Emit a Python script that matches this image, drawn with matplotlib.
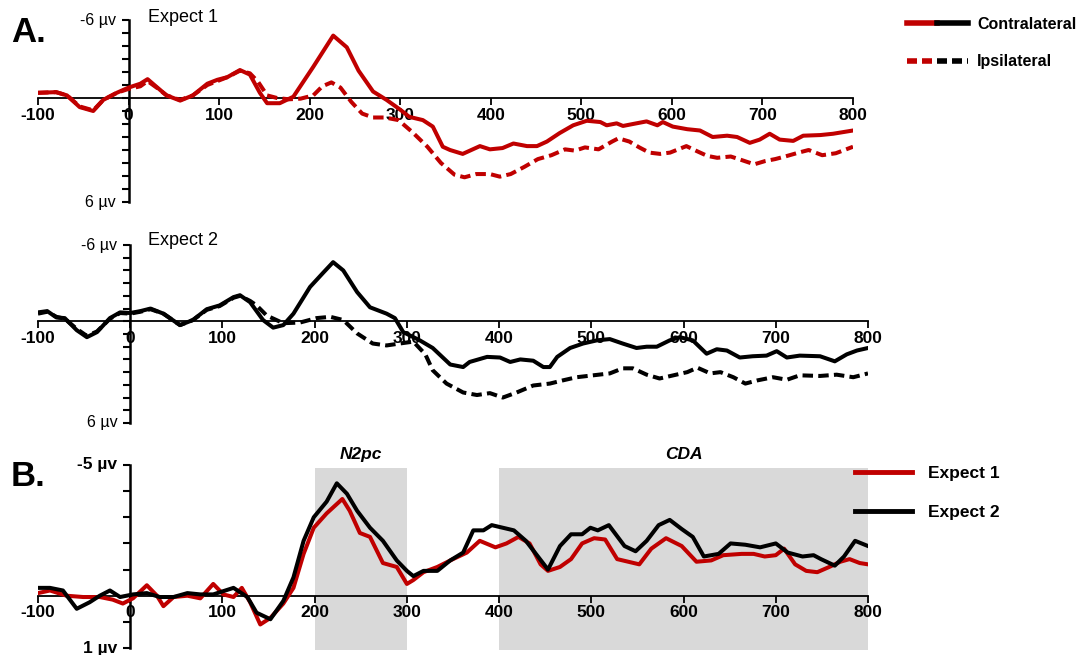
import numpy as np
import matplotlib
matplotlib.use('Agg')
import matplotlib.pyplot as plt
from matplotlib.lines import Line2D
from matplotlib.legend_handler import HandlerTuple

# ERP waveforms (ms, µV), negative plotted up
# Expect 1: contralateral / ipsilateral
e1_contra = [(-100, -0.4), (-80, -0.45), (-68, -0.2), (-54, 0.7), (-39, 1.0), (-28, 0.15), (-13, -0.4),
             (0, -0.8), (13, -1.1), (21, -1.45), (31, -0.85), (42, -0.2), (57, 0.2), (71, -0.2), (87, -1.1),
             (98, -1.4), (109, -1.6), (123, -2.15), (134, -1.8), (145, -0.4), (153, 0.4), (167, 0.4),
             (182, -0.1), (204, -2.4), (226, -4.8), (241, -3.9), (254, -2.1), (270, -0.5), (285, 0.15),
             (300, 0.9), (310, 1.45), (325, 1.7), (336, 2.2), (347, 3.75), (355, 4.0), (369, 4.3),
             (388, 3.7), (399, 3.95), (413, 3.85), (425, 3.5), (440, 3.7), (451, 3.7), (462, 3.35),
             (476, 2.7), (491, 2.1), (506, 1.75), (521, 1.85), (528, 2.1), (539, 1.95), (546, 2.15),
             (557, 2.0), (572, 1.8), (584, 2.1), (590, 1.85), (601, 2.2), (617, 2.4), (631, 2.5),
             (645, 3.0), (661, 2.9), (672, 3.0), (686, 3.45), (697, 3.2), (708, 2.75), (719, 3.2),
             (734, 3.3), (745, 2.9), (764, 2.85), (778, 2.75), (800, 2.5)]
e1_ipsi = [(-100, -0.4), (-80, -0.45), (-68, -0.2), (-54, 0.65), (-39, 0.95), (-28, 0.15), (-13, -0.4),
           (0, -0.7), (13, -0.9), (21, -1.3), (31, -0.8), (42, -0.2), (57, 0.15), (71, -0.2), (87, -1.0),
           (98, -1.3), (109, -1.6), (123, -2.1), (134, -1.9), (143, -1.25), (153, -0.2), (164, 0.0),
           (177, 0.1), (190, 0.05), (204, -0.2), (214, -0.9), (224, -1.2), (234, -0.8), (246, 0.3),
           (258, 1.2), (270, 1.5), (283, 1.5), (298, 1.7), (313, 2.6), (330, 3.75), (345, 5.0),
           (360, 5.9), (371, 6.1), (384, 5.85), (399, 5.85), (410, 6.05), (422, 5.85), (437, 5.3),
           (452, 4.7), (467, 4.4), (482, 3.95), (493, 4.05), (504, 3.8), (519, 3.95), (534, 3.35),
           (541, 3.1), (553, 3.35), (564, 3.8), (575, 4.2), (587, 4.3), (598, 4.2), (616, 3.7),
           (628, 4.1), (639, 4.45), (650, 4.6), (665, 4.5), (676, 4.75), (691, 5.1), (703, 4.85),
           (714, 4.7), (725, 4.5), (740, 4.2), (751, 4.0), (766, 4.4), (781, 4.25), (800, 3.75)]

# Expect 2: contralateral / ipsilateral
e2_contra = [(-100, -0.7), (-90, -0.8), (-80, -0.3), (-71, -0.25), (-58, 0.7), (-47, 1.25), (-36, 0.85),
             (-22, -0.25), (-11, -0.7), (0, -0.65), (11, -0.8), (22, -1.0), (36, -0.6), (54, 0.3),
             (68, -0.1), (83, -0.95), (97, -1.25), (112, -1.9), (119, -2.05), (130, -1.5), (144, -0.1),
             (155, 0.5), (166, 0.3), (177, -0.6), (195, -2.7), (209, -3.8), (220, -4.65), (231, -4.0),
             (246, -2.3), (260, -1.1), (278, -0.6), (287, -0.25), (296, 0.85), (314, 1.5), (328, 2.1),
             (347, 3.4), (361, 3.6), (368, 3.2), (387, 2.8), (401, 2.85), (412, 3.2), (423, 3.0),
             (437, 3.1), (448, 3.6), (455, 3.6), (463, 2.8), (477, 2.1), (491, 1.75), (506, 1.5),
             (520, 1.4), (534, 1.75), (549, 2.1), (560, 2.0), (571, 2.0), (585, 1.5), (596, 1.25),
             (610, 1.5), (625, 2.55), (636, 2.2), (647, 2.3), (661, 2.85), (675, 2.75), (690, 2.7),
             (701, 2.35), (712, 2.85), (726, 2.7), (748, 2.75), (764, 3.15), (777, 2.6), (788, 2.3),
             (800, 2.1)]
e2_ipsi = [(-100, -0.6), (-90, -0.75), (-80, -0.35), (-71, -0.2), (-58, 0.6), (-47, 1.15), (-36, 0.8),
           (-22, -0.2), (-11, -0.65), (0, -0.6), (11, -0.75), (22, -0.95), (36, -0.6), (54, 0.3),
           (68, -0.1), (83, -0.9), (97, -1.2), (112, -1.85), (119, -2.0), (130, -1.6), (137, -1.25),
           (148, -0.45), (166, 0.15), (184, 0.1), (202, -0.25), (217, -0.35), (231, -0.1), (246, 0.95),
           (263, 1.75), (278, 1.9), (292, 1.75), (307, 1.6), (320, 2.6), (328, 3.85), (343, 4.9),
           (361, 5.6), (376, 5.8), (390, 5.65), (404, 6.0), (419, 5.6), (437, 5.05), (455, 4.9),
           (469, 4.65), (484, 4.4), (502, 4.25), (520, 4.1), (534, 3.7), (545, 3.7), (560, 4.2),
           (574, 4.5), (589, 4.25), (604, 4.0), (615, 3.65), (629, 4.1), (640, 4.0), (654, 4.4),
           (667, 4.9), (680, 4.65), (697, 4.4), (712, 4.6), (726, 4.25), (748, 4.3), (766, 4.2),
           (784, 4.4), (800, 4.1)]

# B: contra - ipsi difference waves
diff_e1 = [(-100, -0.1), (-87, -0.2), (-69, 0.0), (-51, 0.05), (-33, 0.05), (-19, 0.15), (-8, 0.3),
           (3, 0.1), (18, -0.4), (29, 0.0), (36, 0.4), (47, 0.05), (62, 0.0), (76, 0.1), (90, -0.45),
           (101, -0.05), (112, 0.05), (121, -0.3), (130, 0.25), (141, 1.1), (152, 0.85), (166, 0.3),
           (177, -0.3), (188, -1.6), (199, -2.6), (213, -3.15), (230, -3.7), (238, -3.25), (249, -2.4),
           (260, -2.25), (274, -1.25), (289, -1.1), (300, -0.45), (307, -0.6), (318, -0.9), (333, -1.1),
           (350, -1.4), (365, -1.65), (379, -2.1), (396, -1.85), (408, -2.0), (421, -2.25), (433, -2.0),
           (445, -1.2), (453, -0.95), (466, -1.1), (478, -1.4), (490, -2.0), (503, -2.2), (515, -2.15),
           (528, -1.4), (540, -1.3), (552, -1.2), (565, -1.8), (581, -2.2), (598, -1.9), (614, -1.3),
           (630, -1.35), (643, -1.55), (663, -1.6), (676, -1.6), (688, -1.5), (700, -1.55), (709, -1.8),
           (721, -1.2), (733, -0.95), (745, -0.9), (758, -1.1), (770, -1.3), (780, -1.4), (791, -1.25),
           (800, -1.2)]
diff_e2 = [(-100, -0.3), (-87, -0.3), (-73, -0.2), (-58, 0.5), (-44, 0.25), (-33, 0.0), (-22, -0.2),
           (-11, 0.05), (3, -0.05), (18, -0.1), (32, 0.05), (47, 0.05), (62, -0.1), (76, -0.05),
           (90, -0.05), (112, -0.3), (127, 0.05), (137, 0.65), (152, 0.9), (166, 0.2), (177, -0.7),
           (188, -2.1), (199, -3.0), (213, -3.6), (224, -4.3), (235, -3.9), (246, -3.25), (260, -2.6),
           (274, -2.1), (289, -1.35), (300, -0.95), (307, -0.75), (318, -0.95), (333, -0.95),
           (347, -1.35), (361, -1.65), (372, -2.5), (383, -2.5), (392, -2.7), (404, -2.6), (416, -2.5),
           (429, -2.1), (441, -1.55), (453, -1.0), (466, -1.9), (478, -2.35), (490, -2.35), (499, -2.6),
           (507, -2.5), (519, -2.7), (536, -1.9), (548, -1.7), (560, -2.1), (573, -2.7), (585, -2.9),
           (598, -2.55), (610, -2.25), (622, -1.5), (638, -1.6), (651, -2.0), (667, -1.95), (683, -1.85),
           (700, -2.0), (713, -1.65), (729, -1.5), (741, -1.55), (749, -1.4), (764, -1.15), (774, -1.5),
           (786, -2.1), (800, -1.9)]

windows = [('N2pc', 200, 300), ('CDA', 400, 800)]
x_ticks = list(range(-100, 801, 100))

RED = '#C00000'
FONT = ['Liberation Sans', 'DejaVu Sans']
LW = 2.9
DASH = (0, (2.6, 1.3))

W, H = 1076, 655
fig = plt.figure(figsize=(W / 100, H / 100), dpi=100)


def px_axes(left, top, right, bottom):
    # axes rectangle from pixel edges
    return fig.add_axes([left / W, 1 - bottom / H, (right - left) / W, (bottom - top) / H])


def setup(ax, ymin, ymax, end_labels, bold_ends):
    ax.set_xlim(-100, 800)
    ax.set_ylim(ymax, ymin)
    ax.patch.set_alpha(0)
    ax.spines[['top', 'right']].set_visible(False)
    ax.spines['left'].set_position(('data', 0))
    ax.spines['bottom'].set_position(('data', 0))
    ax.spines['left'].set_linewidth(1.8)
    ax.spines['bottom'].set_linewidth(1.3)
    ax.set_xticks(x_ticks)
    ax.set_xticklabels([str(t) for t in x_ticks])
    ax.set_yticks(np.arange(ymin, ymax + 1))
    ax.set_yticklabels([])
    ax.tick_params(axis='x', direction='out', length=5, width=1.3, pad=2)
    ax.tick_params(axis='y', direction='out', length=5, width=1.5)
    for lbl in ax.get_xticklabels():
        lbl.set_fontfamily(FONT)
        lbl.set_fontweight('bold')
        lbl.set_fontsize(12.5)
    w = 'bold' if bold_ends else 'normal'
    fs = 12.5 if bold_ends else 11.5
    for y, txt in zip([ymin, ymax], end_labels):
        ax.annotate(txt, xy=(0, y), xytext=(-13, 0), textcoords='offset pixels',
                    ha='right', va='center', fontsize=fs, fontweight=w, family=FONT)


def draw(ax, series, color, ls):
    arr = np.array(series)
    ax.plot(arr[:, 0], arr[:, 1], color=color, lw=LW, ls=ls, solid_joinstyle='round', zorder=3)


# A: Expect 1
ax1 = px_axes(38, 20, 853, 202)
setup(ax1, -6, 8, ['-6 µv', '6 µv'], False)
draw(ax1, e1_ipsi, RED, DASH)
draw(ax1, e1_contra, RED, '-')
ax1.text(0.135, 1.015, 'Expect 1', transform=ax1.transAxes, ha='left', va='center',
         fontsize=13, family=FONT)

# A: Expect 2
ax2 = px_axes(38, 245, 868, 423)
setup(ax2, -6, 8, ['-6 µv', '6 µv'], False)
draw(ax2, e2_ipsi, 'black', DASH)
draw(ax2, e2_contra, 'black', '-')
ax2.text(0.133, 1.028, 'Expect 2', transform=ax2.transAxes, ha='left', va='center',
         fontsize=13, family=FONT)

# B: difference waves
ax3 = px_axes(38, 465, 868, 648)
setup(ax3, -5, 2, ['-5 µv', '1 µv'], True)
for name, t0, t1 in windows:
    ax3.axvspan(t0, t1, ymin=-0.011, ymax=0.983, color='#D9D9D9', lw=0, zorder=0, clip_on=False)
    ax3.text((t0 + t1) / 2, 1.06, name, transform=ax3.get_xaxis_transform(), ha='center',
             va='center', fontsize=12.5, fontweight='bold', style='italic', family=FONT)
draw(ax3, diff_e1, RED, '-')
draw(ax3, diff_e2, 'black', '-')

# panel letters
fig.text(11 / W, 1 - 33 / H, 'A.', fontsize=25, fontweight='bold', family=FONT, va='center')
fig.text(11 / W, 1 - 476 / H, 'B.', fontsize=25, fontweight='bold', family=FONT, va='center')

# legends
leg_font = dict(family=FONT, weight='bold', size=11.5)
h_solid = (Line2D([], [], color=RED, lw=4), Line2D([], [], color='black', lw=4))
h_dash = (Line2D([], [], color=RED, lw=4, ls=(0, (1.8, 0.9))),
          Line2D([], [], color='black', lw=4, ls=(0, (1.8, 0.9))))
fig.legend([h_solid, h_dash], ['Contralateral', 'Ipsilateral'],
           handler_map={tuple: HandlerTuple(ndivide=None, pad=0)},
           loc='upper left', bbox_to_anchor=(907 / W, 1 - 17 / H), frameon=False,
           handlelength=3.8, handletextpad=0.6, labelspacing=1.4, borderpad=0, borderaxespad=0,
           prop=leg_font)
h_b = [Line2D([], [], color=RED, lw=3.5), Line2D([], [], color='black', lw=3.5)]
fig.legend(h_b, ['Expect 1', 'Expect 2'], loc='upper left', bbox_to_anchor=(855 / W, 1 - 466 / H),
           frameon=False, handlelength=3.3, handletextpad=0.9, labelspacing=1.35, borderpad=0,
           borderaxespad=0, prop=dict(family=FONT, weight='bold', size=12.5))

fig.savefig('out.png', dpi=100)
